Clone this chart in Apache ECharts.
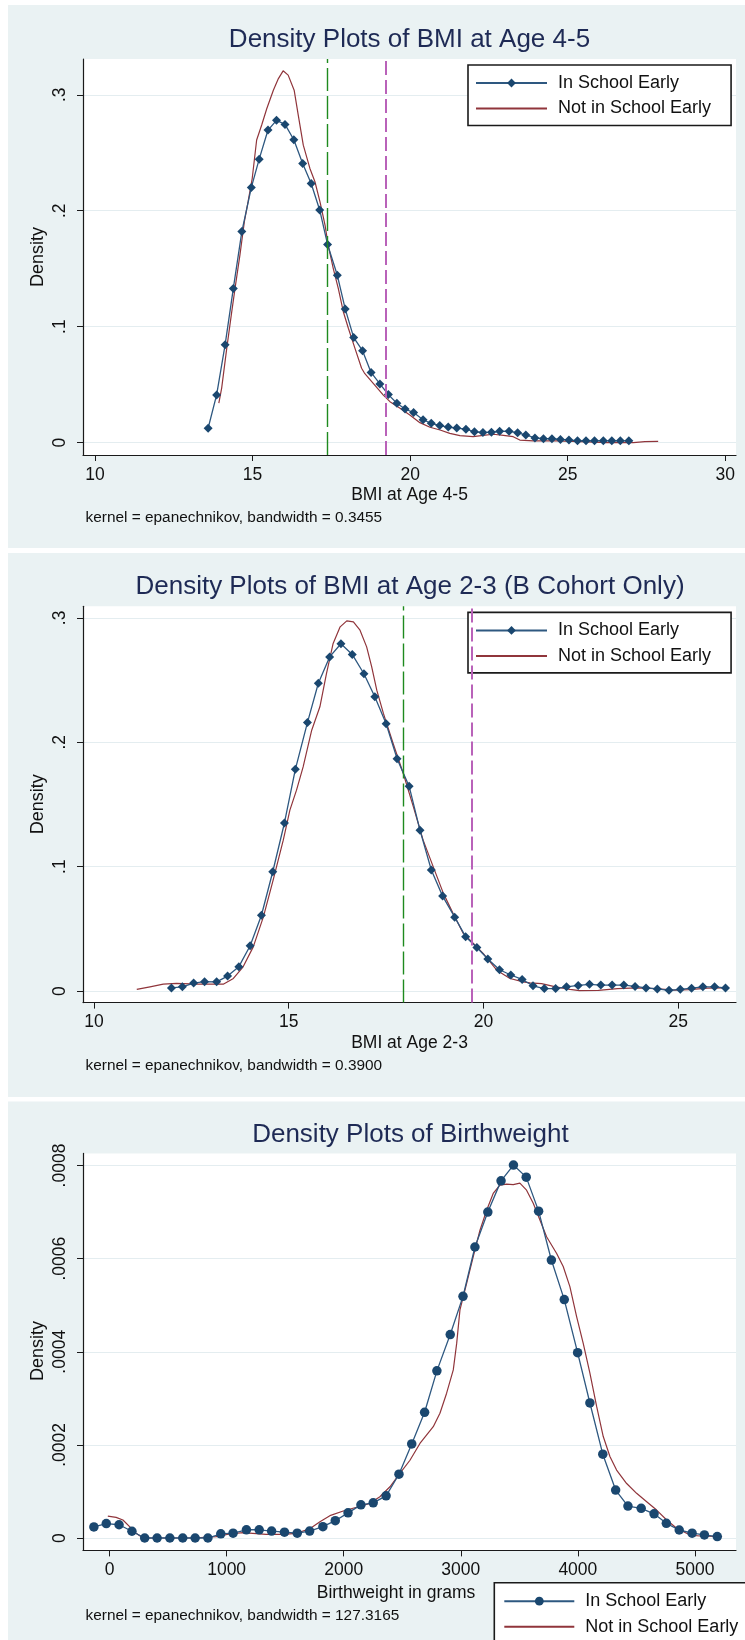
<!DOCTYPE html>
<html>
<head>
<meta charset="utf-8">
<script src="https://cdn.jsdelivr.net/npm/echarts@6/dist/echarts.min.js"></script>
<style>
  html, body { margin: 0; padding: 0; background: #ffffff; }
  #chart { width: 745px; height: 1640px; }
</style>
</head>
<body>
<div id="chart"></div>
<script>
// ---------- Panel 1: BMI at age 4-5 ----------
const bmi45InX = [13.59,13.86,14.13,14.39,14.66,14.96,15.21,15.49,15.76,16.03,16.31,16.59,16.86,17.13,17.38,17.69,17.94,18.21,18.49,18.76,19.04,19.31,19.58,19.84,20.11,20.41,20.67,20.94,21.21,21.48,21.77,22.04,22.31,22.58,22.84,23.14,23.41,23.67,23.96,24.23,24.50,24.77,25.04,25.31,25.58,25.85,26.13,26.40,26.67,26.94];
const bmi45InY = [0.0124,0.0411,0.0845,0.133,0.182,0.220,0.2445,0.2696,0.278,0.2745,0.2612,0.2407,0.2235,0.2007,0.1709,0.1443,0.1153,0.0906,0.0793,0.0605,0.0506,0.0414,0.0340,0.0290,0.0259,0.0197,0.0166,0.0147,0.0134,0.0125,0.0116,0.0093,0.0087,0.0090,0.0097,0.0098,0.0084,0.0066,0.0040,0.0034,0.0033,0.0027,0.0023,0.0015,0.0015,0.0015,0.0015,0.0015,0.0015,0.0015];
const bmi45NotX = [13.93,14.02,14.18,14.34,14.46,14.60,14.74,14.86,14.99,15.13,15.29,15.45,15.66,15.82,15.97,16.13,16.32,16.45,16.61,16.82,16.98,17.14,17.30,17.40,17.56,17.72,17.88,18.04,18.25,18.46,18.55,18.83,19.15,19.36,19.68,19.99,20.31,20.63,20.95,21.26,21.58,22.00,22.32,22.64,22.96,23.27,23.48,23.91,24.65,25.39,26.23,27.08,27.45,27.87];
const bmi45NotY = [0.034,0.047,0.081,0.113,0.136,0.162,0.1905,0.208,0.228,0.261,0.274,0.288,0.304,0.314,0.3207,0.317,0.304,0.2825,0.2566,0.2365,0.225,0.2077,0.1876,0.1704,0.1503,0.1331,0.1129,0.0986,0.0813,0.0641,0.060,0.0511,0.041,0.0353,0.0296,0.0238,0.0172,0.0132,0.0109,0.008,0.006,0.0051,0.0063,0.0072,0.0063,0.0051,0.0022,0.0014,0.0014,0.0008,0.0,0.0,0.0008,0.0011];
const bmi45Cutoffs = [17.37, 19.23];
const bmi45XTicks = [10, 15, 20, 25, 30];
const bmi45YTicks = [0, 0.1, 0.2, 0.3];
const bmi45YLabels = ['0', '.1', '.2', '.3'];

// ---------- Panel 2: BMI at age 2-3 (B cohort) ----------
const bmi23InX = [11.99,12.27,12.56,12.84,13.15,13.43,13.72,14.01,14.30,14.59,14.89,15.17,15.48,15.76,16.05,16.34,16.63,16.93,17.21,17.50,17.78,18.09,18.37,18.66,18.95,19.26,19.54,19.83,20.11,20.41,20.70,20.99,21.27,21.56,21.85,22.13,22.43,22.72,23.01,23.30,23.60,23.89,24.17,24.46,24.76,25.05,25.34,25.63,25.93,26.21];
const bmi23InY = [0.0025,0.0034,0.0064,0.0075,0.0074,0.0120,0.0196,0.0364,0.0609,0.0959,0.1351,0.1782,0.2158,0.2474,0.2686,0.2792,0.2706,0.2551,0.2366,0.2149,0.1868,0.1647,0.1292,0.0973,0.0763,0.0594,0.0437,0.0350,0.0258,0.0171,0.0129,0.0093,0.0042,0.0020,0.0020,0.0034,0.0045,0.0054,0.0048,0.0048,0.0048,0.0037,0.0025,0.0017,0.0006,0.0014,0.0023,0.0034,0.0034,0.0025];
const bmi23NotX = [11.10,11.44,11.78,12.12,12.64,13.32,13.58,13.83,14.09,14.35,14.60,14.86,15.03,15.20,15.37,15.59,15.80,15.97,16.14,16.32,16.49,16.66,16.83,17.00,17.13,17.26,17.43,17.68,17.94,18.20,18.45,18.71,18.97,19.22,19.48,19.74,19.99,20.34,20.68,21.02,21.19,21.49,21.85,22.22,22.46,22.95,23.44,23.93,24.41,24.90,25.27,25.76,26.21];
const bmi23NotY = [0.0013,0.0034,0.0055,0.0061,0.0055,0.0055,0.0101,0.0195,0.0355,0.0596,0.0891,0.1213,0.1454,0.1615,0.1802,0.2097,0.2285,0.2553,0.2794,0.2928,0.2976,0.2968,0.2901,0.2767,0.2606,0.2419,0.2232,0.1990,0.1749,0.1481,0.1213,0.0998,0.0785,0.0624,0.0463,0.0383,0.0302,0.0168,0.0101,0.0074,0.0066,0.0060,0.0034,0.0014,0.0003,0.0006,0.0020,0.0025,0.0020,0.0008,0.0011,0.0023,0.0025];
const bmi23Cutoffs = [17.95, 19.70];
const bmi23XTicks = [10, 15, 20, 25];
const bmi23YTicks = [0, 0.1, 0.2, 0.3];
const bmi23YLabels = ['0', '.1', '.2', '.3'];

// ---------- Panel 3: birthweight ----------
const bwInX = [-134,-28,81,191,300,406,515,625,731,840,950,1055,1169,1278,1384,1494,1603,1709,1822,1928,2037,2147,2252,2362,2472,2581,2691,2796,2910,3019,3121,3231,3344,3450,3559,3665,3774,3884,3998,4103,4213,4323,4428,4541,4651,4756,4866,4976,5081,5191];
const bwInY = [0.0000237,0.0000311,0.0000285,0.0000145,0,0,0,0,0,0,0.0000089,0.0000104,0.0000177,0.0000177,0.0000148,0.0000126,0.0000104,0.000015,0.0000243,0.0000372,0.0000540,0.0000712,0.0000756,0.0000905,0.000137,0.000202,0.000270,0.000359,0.000437,0.000519,0.000625,0.000700,0.000767,0.000801,0.000775,0.000702,0.000597,0.000512,0.000398,0.000290,0.000180,0.000103,0.0000687,0.0000637,0.0000520,0.0000316,0.0000172,0.0000105,0.0000067,0.0000030];
const bwNotX = [-15,56,114,171,227,285,484,712,911,1025,1139,1338,1481,1594,1710,1797,1882,1996,2110,2224,2309,2395,2480,2566,2651,2765,2822,2879,2936,2965,2993,3050,3106,3164,3221,3277,3334,3392,3448,3505,3562,3619,3676,3733,3819,3875,3932,3990,4046,4103,4161,4217,4274,4331,4417,4502,4588,4673,4759,4844,4958,5043,5232];
const bwNotY = [0.0000472,0.0000444,0.0000386,0.0000243,0.0000101,0,0,0,0.0000028,0.0000086,0.0000114,0.0000079,0.0000079,0.0000101,0.000020,0.000035,0.000048,0.000058,0.000066,0.0000745,0.0000887,0.000110,0.000139,0.000167,0.000203,0.000239,0.000268,0.000311,0.000361,0.000418,0.000490,0.000547,0.000604,0.000661,0.000704,0.000740,0.000758,0.000760,0.000759,0.000762,0.000747,0.000719,0.000683,0.000647,0.000611,0.000583,0.000540,0.000475,0.000418,0.000354,0.000282,0.000218,0.000175,0.000146,0.000117,0.000096,0.000078,0.000060,0.0000386,0.0000208,0.0000064,0.0000043,0.0000030];
const bwXTicks = [0, 1000, 2000, 3000, 4000, 5000];
const bwYTicks = [0, 0.0002, 0.0004, 0.0006, 0.0008];
const bwYLabels = ['0', '.0002', '.0004', '.0006', '.0008'];

const groupLabels = ['In School Early', 'Not in School Early'];
const titles = ['Density Plots of BMI at Age 4-5', 'Density Plots of BMI at Age 2-3 (B Cohort Only)', 'Density Plots of Birthweight'];
const xTitles = ['BMI at Age 4-5', 'BMI at Age 2-3', 'Birthweight in grams'];
const notes = ['kernel = epanechnikov, bandwidth = 0.3455', 'kernel = epanechnikov, bandwidth = 0.3900', 'kernel = epanechnikov, bandwidth = 127.3165'];

// ---------- styling ----------
const FONT = "'Liberation Sans', Arial, sans-serif";
const NAVY = '#1a476f';
const MAROON = '#90353b';
const PANEL_BG = '#eaf2f3';
const GRID_LINE = '#e4edf0';
const TITLE_COLOR = '#1e2a55';

const zip = (xs, ys) => xs.map((x, i) => [x, ys[i]]);
const labeler = (vals, labs) => v => {
  for (let i = 0; i < vals.length; i++) if (Math.abs(v - vals[i]) < 1e-9) return labs[i];
  return '';
};

const panels = [
  { top: 59, height: 396, xMin: 9.62, xMax: 30.34, yMin: -0.0107, yMax: 0.3309,
    xTicks: bmi45XTicks, yTicks: bmi45YTicks, yLabels: bmi45YLabels,
    inData: zip(bmi45InX, bmi45InY), notData: zip(bmi45NotX, bmi45NotY),
    cutoffs: bmi45Cutoffs, marker: 'diamond', markerSize: 9 },
  { top: 606.3, height: 396.3, xMin: 9.72, xMax: 26.48, yMin: -0.0093, yMax: 0.3093,
    xTicks: bmi23XTicks, yTicks: bmi23YTicks, yLabels: bmi23YLabels,
    inData: zip(bmi23InX, bmi23InY), notData: zip(bmi23NotX, bmi23NotY),
    cutoffs: bmi23Cutoffs, marker: 'diamond', markerSize: 9 },
  { top: 1153.4, height: 397, xMin: -227, xMax: 5351, yMin: -0.0000266, yMax: 0.000826,
    xTicks: bwXTicks, yTicks: bwYTicks, yLabels: bwYLabels,
    inData: zip(bwInX, bwInY), notData: zip(bwNotX, bwNotY),
    cutoffs: [], marker: 'circle', markerSize: 9.5 }
];

const grids = [], xAxes = [], yAxes = [], series = [], legends = [];
const seriesLabel = {};

panels.forEach((p, i) => {
  grids.push({ left: 83, width: 653, top: p.top, height: p.height, show: true,
    backgroundColor: '#ffffff', borderWidth: 0 });
  xAxes.push({
    type: 'value', gridIndex: i, min: p.xMin, max: p.xMax,
    axisLine: { show: true, onZero: false, lineStyle: { color: '#1a1a1a', width: 1.2 } },
    axisTick: { show: true, length: 6, customValues: p.xTicks, lineStyle: { color: '#1a1a1a', width: 1 } },
    axisLabel: { customValues: p.xTicks, margin: 11, fontSize: 17.5, fontFamily: FONT, color: '#111',
      formatter: v => String(Math.round(v)) },
    splitLine: { show: false }
  });
  yAxes.push({
    type: 'value', gridIndex: i, min: p.yMin, max: p.yMax,
    axisLine: { show: true, onZero: false, lineStyle: { color: '#1a1a1a', width: 1.2 } },
    axisTick: { show: true, length: 6, customValues: p.yTicks, lineStyle: { color: '#1a1a1a', width: 1 } },
    axisLabel: { customValues: p.yTicks, rotate: 90, margin: 14, fontSize: 17.5, fontFamily: FONT, color: '#111',
      formatter: labeler(p.yTicks, p.yLabels) },
    splitLine: { show: true, lineStyle: { color: GRID_LINE, width: 1.2 } }
  });

  const inName = groupLabels[0] + ' ' + (i + 1);
  const notName = groupLabels[1] + ' ' + (i + 1);
  seriesLabel[inName] = groupLabels[0];
  seriesLabel[notName] = groupLabels[1];

  const cutoffLines = p.cutoffs.map((c, k) => ({
    xAxis: c,
    lineStyle: k === 0
      ? { color: '#1e8a1e', type: [23, 5], width: 1.4 }
      : { color: '#b962b9', type: [14, 5], width: 2 }
  }));

  series.push({
    name: notName, type: 'line', xAxisIndex: i, yAxisIndex: i,
    data: p.notData, symbol: 'none', smooth: false,
    lineStyle: { color: MAROON, width: 1.2 }, itemStyle: { color: MAROON },
    emphasis: { disabled: true }, animation: false, z: 2
  });
  series.push({
    name: inName, type: 'line', xAxisIndex: i, yAxisIndex: i,
    data: p.inData, symbol: p.marker, symbolSize: p.markerSize, showSymbol: true,
    lineStyle: { color: '#2e5880', width: 1.3 }, itemStyle: { color: NAVY },
    emphasis: { disabled: true }, animation: false, z: 3,
    markLine: cutoffLines.length ? {
      silent: true, symbol: ['none', 'none'], label: { show: false }, animation: false,
      data: cutoffLines
    } : undefined
  });
});

const legendBase = {
  orient: 'vertical', backgroundColor: '#ffffff', borderColor: '#1a1a1a', borderWidth: 1.6,
  itemWidth: 71, itemHeight: 11, itemGap: 7.5, selectedMode: false, height: 90,
  textStyle: { fontSize: 18, fontFamily: FONT, color: '#111', padding: [0, 0, 0, 6] },
  formatter: name => seriesLabel[name]
};
// the line-only group shows just its stroke in the key
const legendItems = k => [
  { name: groupLabels[0] + ' ' + k },
  { name: groupLabels[1] + ' ' + k, itemStyle: { opacity: 0, borderWidth: 0 } }
];
legends.push(Object.assign({}, legendBase, { left: 468, top: 65, padding: [9, 20, 8, 7], data: legendItems(1) }));
legends.push(Object.assign({}, legendBase, { left: 468, top: 612.4, padding: [9, 20, 8, 7], data: legendItems(2) }));
legends.push(Object.assign({}, legendBase, { left: 494.3, top: 1582.7, itemWidth: 70, padding: [9.5, 20, 8, 9],
  data: legendItems(3) }));

// panel frames and free text
const panelRects = [[8, 5, 737, 543], [8, 553, 737, 544], [8, 1101.5, 737, 545]];
const titlePos = [[409.5, 40], [410, 586.8], [410.4, 1134.4]];
const xTitlePos = [[409.5, 495], [409.5, 1042.8], [396, 1593]];
const yTitlePos = [[38, 257], [38, 804.3], [38, 1351]];
const notePos = [[85.5, 518], [85.5, 1065.6], [85.5, 1615.5]];

const graphics = [];
panelRects.forEach(r => graphics.push({ type: 'rect', z: -10, silent: true,
  shape: { x: r[0], y: r[1], width: r[2], height: r[3] }, style: { fill: PANEL_BG } }));
titles.forEach((t, i) => graphics.push({ type: 'text', x: titlePos[i][0], y: titlePos[i][1], silent: true,
  style: { text: t, fontSize: 26, fontFamily: FONT, fill: TITLE_COLOR, align: 'center', verticalAlign: 'middle' } }));
xTitles.forEach((t, i) => graphics.push({ type: 'text', x: xTitlePos[i][0], y: xTitlePos[i][1], silent: true,
  style: { text: t, fontSize: 17.5, fontFamily: FONT, fill: '#111', align: 'center', verticalAlign: 'middle' } }));
yTitlePos.forEach(pos => graphics.push({ type: 'text', x: pos[0], y: pos[1], rotation: Math.PI / 2, silent: true,
  style: { text: 'Density', fontSize: 18, fontFamily: FONT, fill: '#111', align: 'center', verticalAlign: 'middle' } }));
notes.forEach((t, i) => graphics.push({ type: 'text', x: notePos[i][0], y: notePos[i][1], silent: true,
  style: { text: t, fontSize: 15.4, fontFamily: FONT, fill: '#111', align: 'left', verticalAlign: 'middle' } }));

const chart = echarts.init(document.getElementById('chart'), null, { renderer: 'canvas' });
chart.setOption({
  backgroundColor: '#ffffff',
  animation: false,
  grid: grids,
  xAxis: xAxes,
  yAxis: yAxes,
  legend: legends,
  series: series,
  graphic: { elements: graphics }
});
</script>
</body>
</html>
